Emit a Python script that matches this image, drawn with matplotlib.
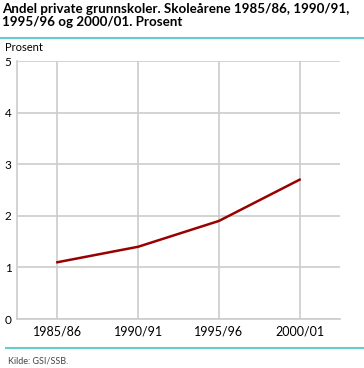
import matplotlib
matplotlib.use("Agg")
import matplotlib.pyplot as plt
from matplotlib.lines import Line2D

plt.rcParams["font.family"] = ["Lato", "DejaVu Sans"]

# data
years = ["1985/86", "1990/91", "1995/96", "2000/01"]
share = [1.1, 1.4, 1.9, 2.7]
yticks = [0, 1, 2, 3, 4, 5]

title = "Andel private grunnskoler. Skoleårene 1985/86, 1990/91,\n1995/96 og 2000/01. Prosent"
grid_col = "#cccccc"
teal = "#66cccc"

fig = plt.figure(figsize=(3.64, 3.68), dpi=100)
ax = fig.add_axes([17/364, 49/368, 323/364, 258/368])

x = list(range(len(years)))
ax.plot(x, share, color="#990000", lw=1.8, zorder=3)

ax.set_xlim(-0.5, 3.5)
ax.set_ylim(0, 5)
ax.set_xticks(x)
ax.set_xticklabels(years, fontsize=9)
ax.set_yticks(yticks)
ax.set_yticklabels([str(v) for v in yticks], fontsize=8.5)
ax.grid(True, color=grid_col, lw=1.2)
ax.tick_params(length=0, pad=5)
ax.tick_params(axis="y", pad=4)
for s in ["top", "right"]:
    ax.spines[s].set_visible(False)
for s in ["left", "bottom"]:
    ax.spines[s].set_color(grid_col)
    ax.spines[s].set_linewidth(1.2)

fig.text(2/364, 1 - 3/368, title, fontsize=9.6, fontweight="bold", va="top", ha="left", linespacing=1.1)
fig.text(5/364, 1 - 42/368, "Prosent", fontsize=8, va="top", ha="left")
fig.text(8/364, 1 - 357/368, "Kilde: GSI/SSB.", fontsize=6.5, va="top", ha="left", color="#444444")

fig.add_artist(Line2D([0, 1], [1 - 38/368, 1 - 38/368], color=teal, lw=1.5, transform=fig.transFigure))
fig.add_artist(Line2D([6/364, 1], [1 - 348/368, 1 - 348/368], color=teal, lw=1.5, transform=fig.transFigure))

fig.savefig("out.png", dpi=100)
